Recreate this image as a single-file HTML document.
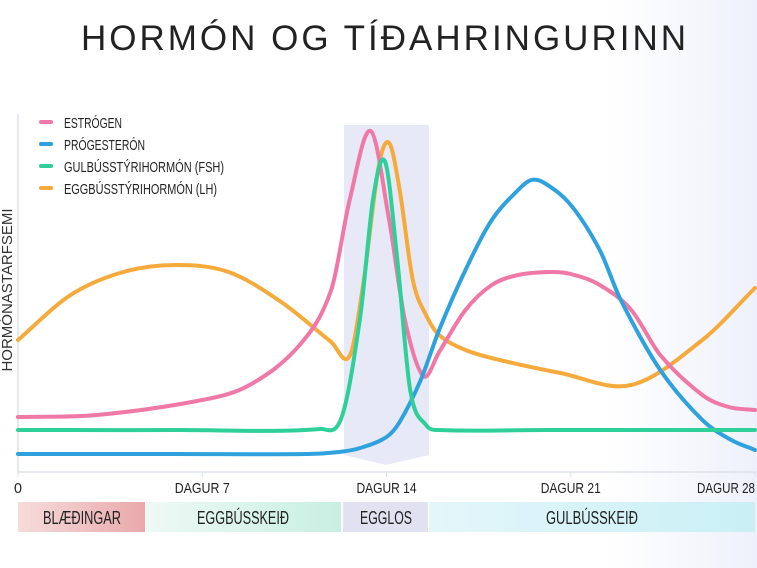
<!DOCTYPE html>
<html><head><meta charset="utf-8"><style>
html,body{margin:0;padding:0;background:#fff;}
svg{display:block;font-family:"Liberation Sans",sans-serif;}
</style></head><body>
<svg id="chart" width="757" height="568" viewBox="0 0 757 568" xmlns="http://www.w3.org/2000/svg">
<defs>
<linearGradient id="gRed" x1="0" x2="1"><stop offset="0" stop-color="#f6dcdc"/><stop offset="1" stop-color="#e9a9ab"/></linearGradient>
<linearGradient id="gGreen" x1="0" x2="1"><stop offset="0" stop-color="#eef9f5"/><stop offset="1" stop-color="#c8efe2"/></linearGradient>
<linearGradient id="gCyan" x1="0" x2="1"><stop offset="0" stop-color="#e4f6fa"/><stop offset="1" stop-color="#c9f0f6"/></linearGradient>
<linearGradient id="gBg" x1="0" x2="1"><stop offset="0.8" stop-color="#ffffff"/><stop offset="1" stop-color="#eef1fb"/></linearGradient>
</defs>
<rect x="0" y="0" width="757" height="568" fill="url(#gBg)"/>
<text x="385" y="50" text-anchor="middle" font-size="35" letter-spacing="3" fill="#222" font-weight="300">HORMÓN OG TÍÐAHRINGURINN</text>
<polygon points="344,125 429,125 429,455 386,465 344,455" fill="#e3e5f5" opacity="0.85"/>
<line x1="18" y1="114" x2="18" y2="472" stroke="#dde0ea" stroke-width="1.5"/>
<line x1="18" y1="472" x2="756" y2="472" stroke="#dde0ea" stroke-width="1.5"/>
<text transform="translate(12,290) rotate(-90)" text-anchor="middle" font-size="15" fill="#333">HORMÓNASTARFSEMI</text>
<g id="ticks"></g>
<g id="series"></g>
<g font-size="15" fill="#222">
<rect x="39" y="120" width="14" height="4" rx="2" fill="#ef78a6"/><text x="64" y="128" textLength="58" lengthAdjust="spacingAndGlyphs">ESTRÓGEN</text>
<rect x="39" y="142" width="14" height="4" rx="2" fill="#2fa2de"/><text x="64" y="150" textLength="81" lengthAdjust="spacingAndGlyphs">PRÓGESTERÓN</text>
<rect x="39" y="164" width="14" height="4" rx="2" fill="#2fcf9a"/><text x="64" y="172" textLength="160" lengthAdjust="spacingAndGlyphs">GULBÚSSTÝRIHORMÓN (FSH)</text>
<rect x="39" y="186" width="14" height="4" rx="2" fill="#f5aa3c"/><text x="64" y="194" textLength="153" lengthAdjust="spacingAndGlyphs">EGGBÚSSTÝRIHORMÓN (LH)</text>
</g>
<g font-size="18" fill="#222" text-anchor="middle">
<rect x="18" y="502" width="127" height="30" fill="url(#gRed)"/>
<rect x="146" y="502" width="195" height="30" fill="url(#gGreen)"/>
<rect x="343" y="502" width="85" height="30" fill="#e1e1f2"/>
<rect x="429" y="502" width="326" height="30" fill="url(#gCyan)"/>
<text x="82" y="524" textLength="78" lengthAdjust="spacingAndGlyphs">BLÆÐINGAR</text>
<text x="243" y="524" textLength="92" lengthAdjust="spacingAndGlyphs">EGGBÚSSKEIÐ</text>
<text x="386" y="524" textLength="52" lengthAdjust="spacingAndGlyphs">EGGLOS</text>
<text x="592" y="524" textLength="92" lengthAdjust="spacingAndGlyphs">GULBÚSSKEIÐ</text>
</g>
</svg>
<script>
const tickDays=[0,7,14,21,28];
const tickLabels=["0","DAGUR 7","DAGUR 14","DAGUR 21","DAGUR 28"];
const estDays=[0,3,7,8.8,10.7,11.9,12.6,13.4,14.1,14.7,15.4,16,17,18,19,20.2,21,22.1,23.3,24.4,26,27,28];
const estVals=[70,72,87,102,142,197,287,356,267,167,111,135,177,202,212,215,213,202,177,132,92,80,77];
const proDays=[0,6,11,12.2,13,14,14.5,15.3,16,17,18,19,19.5,20,21,22.1,22.9,24.4,26,27.1,28];
const proVals=[33,33,33,35,39,50,65,107,157,217,267,297,307,304,282,237,187,117,67,47,37];
const fshDays=[0,6,11.5,12.3,13,13.5,13.95,14.4,14.9,15.5,16,20,28];
const fshVals=[57,57,58,70,170,290,325,230,97,62,57,57,57];
const lhDays=[0,2,4,6,8,10,11.9,12.6,13.1,13.7,14.1,14.5,15,15.5,16,17,18.3,20.6,23.3,26,28];
const lhVals=[147,192,215,222,215,185,145,131,200,320,344,297,207,172,152,137,127,114,102,147,199];
const X0=18,X1=755,Y0=487;
function xs(d){return X0+(X1-X0)*d/28;}
function ys(v){return Y0-v;}
const NS="http://www.w3.org/2000/svg";
const tg=document.getElementById('ticks');
const tickW=[8,55,60,60,58];
tickDays.forEach((d,i)=>{
  const t=document.createElementNS(NS,'text');
  
  
  t.setAttribute('x',i===0?xs(d)-4:xs(d));t.setAttribute('y',493);
  t.setAttribute('font-size','15');t.setAttribute('fill','#222');
  t.setAttribute('textLength',tickW[i]);t.setAttribute('lengthAdjust','spacingAndGlyphs');
  t.setAttribute('text-anchor',i===0?'start':(i===tickDays.length-1?'end':'middle'));
  t.textContent=tickLabels[i];tg.appendChild(t);
  const l=document.createElementNS(NS,'line');
  
  
  l.setAttribute('x1',xs(d));l.setAttribute('x2',xs(d));l.setAttribute('y1',472);l.setAttribute('y2',477);
  l.setAttribute('stroke','#dde0ea');tg.appendChild(l);
});
function pathD(days,vals){
  const p=days.map((d,i)=>[xs(d),ys(vals[i])]);
  let s='M'+p[0][0]+','+p[0][1];
  for(let i=0;i<p.length-1;i++){
    const a=p[i-1]||p[i],b=p[i],c=p[i+1],e=p[i+2]||c;
    const dx=c[0]-b[0];
    const t1=(c[1]-a[1])/((c[0]-a[0])||1), t2=(e[1]-b[1])/((e[0]-b[0])||1);
    s+=' C'+(b[0]+dx/3)+','+(b[1]+t1*dx/3)+' '+(c[0]-dx/3)+','+(c[1]-t2*dx/3)+' '+c[0]+','+c[1];
  }
  return s;
}
const sg=document.getElementById('series');
[["series-lh",lhDays,lhVals,"#f5aa3c"],["series-estrogen",estDays,estVals,"#ef78a6"],["series-progesterone",proDays,proVals,"#2fa2de"],["series-fsh",fshDays,fshVals,"#2fcf9a"]].forEach(s=>{
  const pa=document.createElementNS(NS,'path');
  
  
  pa.setAttribute('d',pathD(s[1],s[2]));
  pa.setAttribute('fill','none');pa.setAttribute('stroke',s[3]);pa.setAttribute('stroke-width','4');
  pa.setAttribute('stroke-linecap','round');
  sg.appendChild(pa);
});
</script>
</body></html>
